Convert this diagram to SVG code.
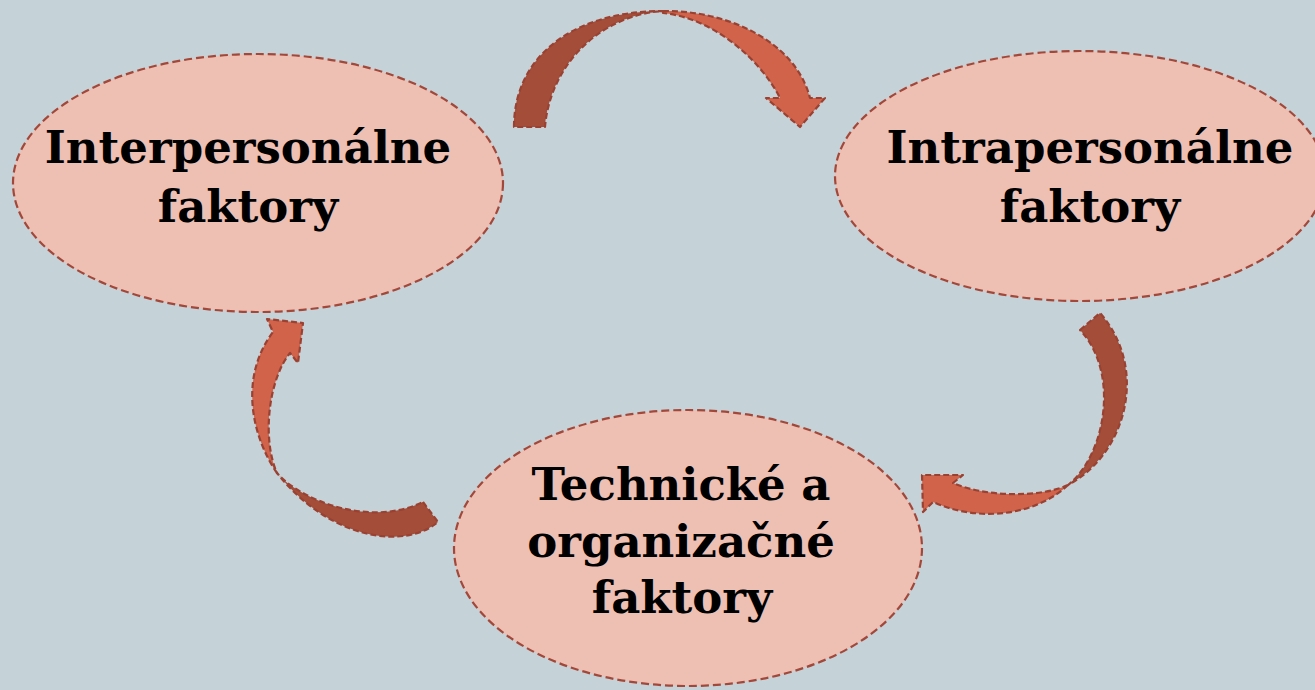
<svg xmlns="http://www.w3.org/2000/svg" width="1315" height="690" viewBox="0 0 1315 690">
<style>
.node{fill:#EEBFB3;stroke:#A2483A;stroke-width:2.2;stroke-dasharray:8 4}
.dark{fill:#A44E3A;stroke:#9A4132;stroke-width:2.2;stroke-dasharray:6 3;stroke-linejoin:round}
.light{fill:#D0634A;stroke:#9A4132;stroke-width:2.2;stroke-dasharray:6 3;stroke-linejoin:round}
.lbl{font-family:"DejaVu Serif","Liberation Serif",serif;font-weight:bold;font-size:45px;fill:#000;text-anchor:middle}
</style>
<rect width="1315" height="690" fill="#C5D2D8"/>
<g id="connectors">
<g id="arrow-top">
<path class="dark" d="M514,127 C514,55 575,11 663,11 C600,15 550,65 545,127 Z"/>
<path class="light" d="M663,11 C725,10 795,40 810,98 L825,98 L800,127 L766,98 L780,98 C762,62 715,18 663,13 Z"/>
</g>
<g id="arrow-right">
<path class="dark" d="M1080,330 L1100,313 C1150,370 1125,455 1068,485 C1106,455 1120,372 1080,330 Z"/>
<path class="light" d="M1068,485 C1040,512 985,525 933,502 L923,512 L922,475 L963,475 L953,483 C985,497 1040,498 1068,485 Z"/>
</g>
<g id="arrow-left">
<path class="dark" d="M423,502 L438,522 C405,550 330,540 277,473 C300,500 370,528 423,502 Z"/>
<path class="light" d="M277,473 C254,440 237,380 273,332 L267,319 L303,323 L298,363 L290,353 C268,380 262,440 277,473 Z"/>
</g>
</g>
<g id="node-interpersonalne">
<ellipse class="node" cx="258" cy="183" rx="245" ry="129"/>
<text class="lbl" x="248" y="163">Interpersonálne</text>
<text class="lbl" x="248" y="222">faktory</text>
</g>
<g id="node-intrapersonalne">
<ellipse class="node" cx="1080" cy="176" rx="245" ry="125"/>
<text class="lbl" x="1090" y="163">Intrapersonálne</text>
<text class="lbl" x="1090" y="222">faktory</text>
</g>
<g id="node-technicke">
<ellipse class="node" cx="688" cy="548" rx="234" ry="138"/>
<text class="lbl" x="681" y="500">Technické a</text>
<text class="lbl" x="681" y="557">organizačné</text>
<text class="lbl" x="682" y="613">faktory</text>
</g>
</svg>
